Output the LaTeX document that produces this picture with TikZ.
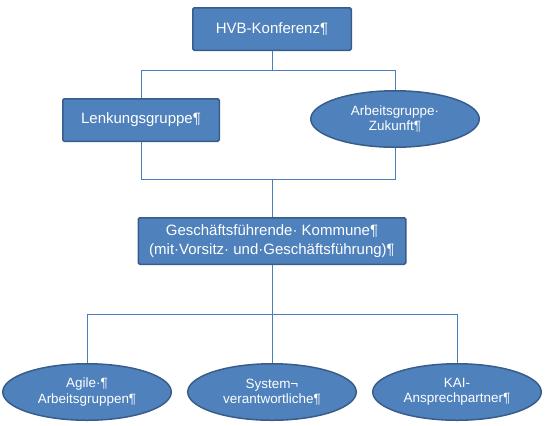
\documentclass[tikz,border=0pt]{standalone}
\usepackage{fontspec}
\setmainfont{Liberation Sans}
\usetikzlibrary{shapes.geometric}
\definecolor{officeblue}{RGB}{79,129,189}
\definecolor{officeedge}{RGB}{56,93,138}
\definecolor{linkblue}{RGB}{74,126,187}
\tikzset{
  base/.style={text=white, align=center, inner sep=2pt},
  box/.style={base, rectangle, rounded corners=1.5pt, draw=officeedge, fill=officeblue, line width=1.5bp, font=\fontsize{15.05}{19.5}\selectfont},
  oval/.style={base, ellipse, draw=officeedge, fill=officeblue, line width=1.5bp, minimum width=168.5bp, minimum height=56.5bp, font=\fontsize{13.5}{15.2}\selectfont},
  conn/.style={draw=linkblue, line width=0.8bp},
}
\begin{document}
\begin{tikzpicture}[x=1bp,y=-1bp]
  \useasboundingbox (0,0) rectangle (546,425);
  \node[box,minimum width=158.5bp,minimum height=42.5bp] (hvb) at (272,29) {HVB-Konferenz¶};
  \node[box,minimum width=156.5bp,minimum height=42.5bp] (lenk) at (141,120) {Lenkungsgruppe¶};
  \node[oval] (agz) at (395,119) {Arbeitsgruppe·\\Zukunft¶};
  \node[box,minimum width=267.5bp,minimum height=46.5bp] (gf) at (272,241) {Geschäftsführende· Kommune¶\\(mit·Vorsitz· und·Geschäftsführung)¶};
  % lower row
  \node[oval] (agile) at (87,392) {Agile·¶\\Arbeitsgruppen¶};
  \node[oval] (sysv) at (272,392) {System¬\\verantwortliche¶};
  \node[oval] (kai) at (457,392) {KAI-\\Ansprechpartner¶};
  % connectors
  \coordinate (top) at (272,70);
  \coordinate (mid) at (272,179);
  \coordinate (low) at (272,314);
  \draw[conn] (hvb.south) -- (top);
  \foreach \n in {lenk,agz}{\draw[conn] (top) -| (\n.north);}
  \foreach \n in {lenk,agz}{\draw[conn] (\n.south) |- (mid);}
  \draw[conn] (mid) -- (gf.north);
  \draw[conn] (gf.south) -- (low);
  \foreach \n in {agile,sysv,kai}{\draw[conn] (low) -| (\n.north);}
\end{tikzpicture}
\end{document}
